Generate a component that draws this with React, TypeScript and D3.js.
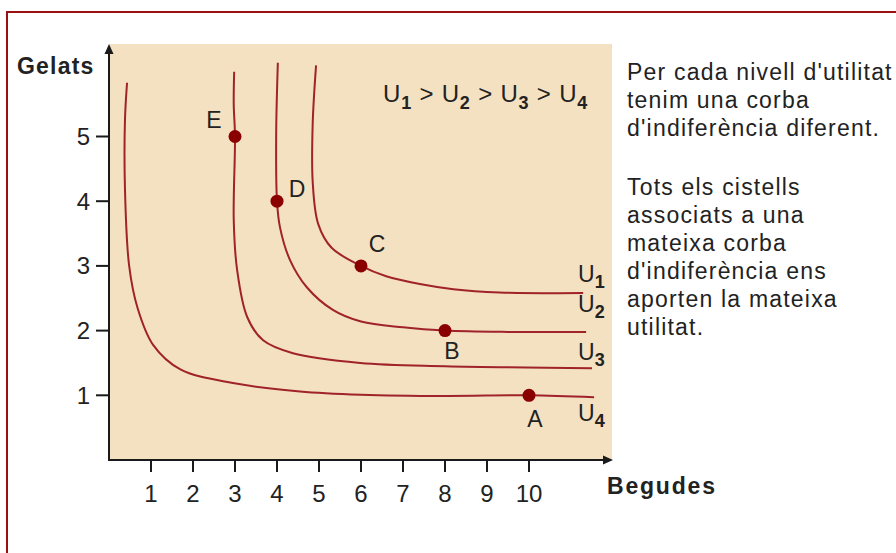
import React from "react";
import * as d3 from "d3";

const xTicks = [1, 2, 3, 4, 5, 6, 7, 8, 9, 10];
const yTicks = [1, 2, 3, 4, 5];

const curveU1: [number, number][] = [[4.93, 6.1], [4.85, 5.2], [4.85, 4.3], [4.98, 3.65], [5.3, 3.28], [6.0, 3.0], [6.6, 2.84], [7.4, 2.72], [8.2, 2.64], [9.3, 2.59], [11.29, 2.58]];
const curveU2: [number, number][] = [[4.02, 6.14], [3.98, 5.0], [4.0, 4.0], [4.07, 3.6], [4.31, 3.09], [4.71, 2.67], [5.33, 2.32], [6.0, 2.14], [7.0, 2.05], [8, 2.0], [9.5, 1.98], [11.36, 1.98]];
const curveU3: [number, number][] = [[2.98, 6.0], [2.97, 5.5], [3.0, 5.0], [2.97, 3.71], [3.05, 2.94], [3.29, 2.21], [3.67, 1.85], [4.38, 1.65], [5.98, 1.5], [8, 1.45], [11.5, 1.42]];
const curveU4: [number, number][] = [[0.43, 5.83], [0.38, 5.25], [0.38, 4.2], [0.48, 3.0], [0.68, 2.35], [1.05, 1.78], [1.7, 1.4], [2.95, 1.19], [4.55, 1.06], [6, 1.01], [8, 0.99], [10, 1], [11.55, 0.97]];
const curves = [curveU1, curveU2, curveU3, curveU4];

const pointNames = ["A", "B", "C", "D", "E"];
const pointX = [10, 8, 6, 4, 3];
const pointY = [1, 2, 3, 4, 5];

const curveNames = ["1", "2", "3", "4"];
const curveLabelY = [2.75, 2.28, 1.55, 0.6];

const noteLines1 = ["Per cada nivell d'utilitat", "tenim una corba", "d'indiferència diferent."];
const noteLines2 = ["Tots els cistells", "associats a una", "mateixa corba", "d'indiferència ens", "aporten la mateixa", "utilitat."];

export default function App() {
  const x = d3.scaleLinear().domain([0, 10]).range([109, 529]);
  const y = d3.scaleLinear().domain([0, 5]).range([460, 136.5]);
  const line = d3
    .line<[number, number]>()
    .x((d) => x(d[0]))
    .y((d) => y(d[1]))
    .curve(d3.curveCatmullRom.alpha(0.5));

  const font = "'Liberation Sans', Arial, sans-serif";
  const txt = "#222";
  const fs = 23;
  const ls = 1.2;

  return (
    <svg
      width={896}
      height={553}
      style={{ position: "absolute", left: 0, top: 0, background: "#fff" }}
      fontFamily={font}
    >
      <rect x={7} y={12} width={1000} height={1000} fill="#fff" stroke="#9a0f0f" strokeWidth={2} />
      <rect x={109} y={44} width={503} height={416} fill="#F3E1C1" />

      {curves.map((c, i) => (
        <path key={i} d={line(c) || ""} fill="none" stroke="#a0222a" strokeWidth={2} />
      ))}

      {pointNames.map((n, i) => (
        <circle key={n} cx={x(pointX[i])} cy={y(pointY[i])} r={6.5} fill="#8a0000" />
      ))}

      {pointNames.map((n, i) => {
        const off: Record<string, [number, number]> = {
          A: [6, 32],
          B: [7, 28],
          C: [16, -14],
          D: [20, -4],
          E: [-21, -9],
        };
        return (
          <text
            key={n}
            x={x(pointX[i]) + off[n][0]}
            y={y(pointY[i]) + off[n][1]}
            fontSize={fs}
            fill={txt}
            textAnchor="middle"
          >
            {n}
          </text>
        );
      })}

      {curveNames.map((n, i) => (
        <text key={n} x={578} y={y(curveLabelY[i])} fontSize={fs} fill={txt}>
          U
          <tspan fontSize={18} fontWeight="bold" dy={6}>
            {n}
          </tspan>
        </text>
      ))}

      <line x1={109} y1={461} x2={109} y2={52} stroke="#1a1a1a" strokeWidth={2} />
      <path d="M109,44 L104.5,54 L113.5,54 Z" fill="#1a1a1a" />
      <line x1={108} y1={460} x2={604} y2={460} stroke="#1a1a1a" strokeWidth={2} />
      <path d="M613,460 L603,455.5 L603,464.5 Z" fill="#1a1a1a" />

      {yTicks.map((t) => (
        <g key={t}>
          <line x1={96} x2={109} y1={y(t)} y2={y(t)} stroke="#1a1a1a" strokeWidth={2} />
          <text x={90} y={y(t) + 8.5} fontSize={24} fill={txt} textAnchor="end">
            {t}
          </text>
        </g>
      ))}
      {xTicks.map((t) => (
        <g key={t}>
          <line x1={x(t)} x2={x(t)} y1={460} y2={472} stroke="#1a1a1a" strokeWidth={2} />
          <text x={x(t)} y={502} fontSize={24} fill={txt} textAnchor="middle">
            {t}
          </text>
        </g>
      ))}

      <text x={17} y={74} fontSize={fs} fontWeight="bold" fill={txt} letterSpacing={ls}>
        Gelats
      </text>
      <text x={607} y={494} fontSize={fs} fontWeight="bold" fill={txt} letterSpacing={1.8}>
        Begudes
      </text>

      <text x={383} y={102} fontSize={24} fill={txt} letterSpacing={0.8}>
        U<tspan fontSize={18} fontWeight="bold" dy={7}>1</tspan>
        <tspan dy={-7}> {">"} U</tspan>
        <tspan fontSize={18} fontWeight="bold" dy={7}>2</tspan>
        <tspan dy={-7}> {">"} U</tspan>
        <tspan fontSize={18} fontWeight="bold" dy={7}>3</tspan>
        <tspan dy={-7}> {">"} U</tspan>
        <tspan fontSize={18} fontWeight="bold" dy={7}>4</tspan>
      </text>

      {noteLines1.map((l, i) => (
        <text key={"a" + i} x={627} y={80 + i * 28} fontSize={fs} fill={txt} letterSpacing={ls}>
          {l}
        </text>
      ))}
      {noteLines2.map((l, i) => (
        <text key={"b" + i} x={627} y={195 + i * 28} fontSize={fs} fill={txt} letterSpacing={ls}>
          {l}
        </text>
      ))}
    </svg>
  );
}
